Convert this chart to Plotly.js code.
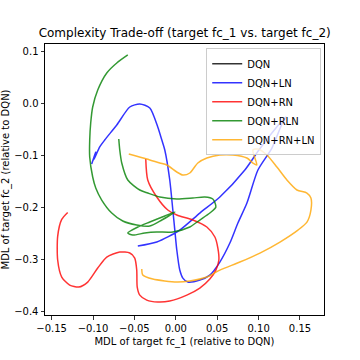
<!DOCTYPE html>
<html>
<head>
<meta charset="utf-8">
<script src="https://cdn.plot.ly/plotly-3.0.1.min.js"></script>
<style>html,body{margin:0;padding:0;background:#fff;}#chart{width:360px;height:360px;}</style>
</head>
<body>
<div id="chart"></div>
<script>
// Series names
var seriesNames = ["DQN", "DQN+LN", "DQN+RN", "DQN+RLN", "DQN+RN+LN"];

// DQN is the reference point (origin)
var dqnX = [0];
var dqnY = [0];

// DQN+LN
var lnX = [-0.1016, -0.0967, -0.0992, -0.0919, -0.0859, -0.0713, -0.0556, -0.0435, -0.0314, -0.0218, -0.0169, -0.0133, -0.0073, -0.0036, -0.0012, 0.0012, 0.0048, 0.0085, 0.0145, 0.0290, 0.0411, 0.0532, 0.0653, 0.0750, 0.0859, 0.0992, 0.1161, 0.1282, 0.1330, 0.1270, 0.1004, 0.0834, 0.0532, 0.0290, 0.0048, -0.0230, -0.0459];
var lnY = [-0.1167, -0.0937, -0.1090, -0.0840, -0.0706, -0.0417, -0.0071, -0.0013, -0.0090, -0.0456, -0.0706, -0.0898, -0.1475, -0.2052, -0.2437, -0.2821, -0.3206, -0.3360, -0.3437, -0.3398, -0.3302, -0.3052, -0.2687, -0.2302, -0.1917, -0.1283, -0.0860, -0.0398, -0.0263, -0.0360, -0.0898, -0.1283, -0.1802, -0.2110, -0.2437, -0.2667, -0.2744];

// DQN+RN
var rnX = [-0.0363, -0.0339, -0.0230, -0.0097, 0.0012, 0.0206, 0.0375, 0.0472, 0.0508, 0.0520, 0.0484, 0.0411, 0.0290, 0.0133, -0.0073, -0.0218, -0.0351, -0.0435, -0.0466, -0.0472, -0.0496, -0.0556, -0.0677, -0.0834, -0.0943, -0.1064, -0.1173, -0.1282, -0.1378, -0.1427, -0.1427, -0.1378, -0.1306];
var rnY = [-0.1071, -0.1475, -0.1802, -0.2052, -0.2148, -0.2244, -0.2379, -0.2571, -0.2783, -0.3013, -0.3206, -0.3379, -0.3552, -0.3687, -0.3802, -0.3821, -0.3783, -0.3687, -0.3533, -0.3206, -0.2975, -0.2879, -0.2860, -0.2956, -0.3167, -0.3437, -0.3533, -0.3494, -0.3340, -0.3013, -0.2558, -0.2233, -0.2098];

// DQN+RLN
var rlnX = [-0.0580, -0.0713, -0.0834, -0.0943, -0.1004, -0.1028, -0.1040, -0.1040, -0.1004, -0.0967, -0.0895, -0.0774, -0.0641, -0.0472, -0.0314, -0.0169, -0.0012, -0.0133, -0.0314, -0.0459, -0.0580, -0.0520, -0.0375, -0.0230, -0.0036, 0.0169, 0.0290, 0.0411, 0.0484, 0.0447, 0.0351, 0.0206, 0.0012, -0.0193, -0.0339, -0.0435, -0.0580, -0.0653, -0.0677, -0.0689];
var rlnY = [0.0929, 0.0775, 0.0583, 0.0256, -0.0071, -0.0379, -0.0706, -0.1033, -0.1417, -0.1629, -0.1860, -0.2110, -0.2263, -0.2340, -0.2360, -0.2244, -0.2090, -0.2167, -0.2283, -0.2379, -0.2494, -0.2533, -0.2494, -0.2475, -0.2475, -0.2379, -0.2244, -0.2110, -0.1994, -0.1840, -0.1802, -0.1821, -0.1840, -0.1802, -0.1725, -0.1667, -0.1475, -0.1148, -0.0898, -0.0687];

// DQN+RN+LN
var rnlnX = [-0.0568, -0.0351, -0.0193, -0.0109, 0.0012, 0.0085, 0.0169, 0.0266, 0.0375, 0.0532, 0.0689, 0.0859, 0.0931, 0.0979, 0.0931, 0.0992, 0.1100, 0.1221, 0.1342, 0.1463, 0.1584, 0.1632, 0.1632, 0.1584, 0.1475, 0.1258, 0.1016, 0.0774, 0.0532, 0.0375, 0.0169, 0.0012, -0.0278, -0.0399, -0.0411];
var rnlnY = [-0.0975, -0.1071, -0.1148, -0.1187, -0.1321, -0.1379, -0.1340, -0.1148, -0.1052, -0.0994, -0.0994, -0.1052, -0.1148, -0.1187, -0.0898, -0.0879, -0.0994, -0.1225, -0.1475, -0.1667, -0.1725, -0.1821, -0.2052, -0.2283, -0.2437, -0.2667, -0.2879, -0.3052, -0.3206, -0.3340, -0.3417, -0.3437, -0.3379, -0.3302, -0.3187];

var colors = ["rgba(0,0,0,0.8)", "rgba(0,0,255,0.8)", "rgba(255,0,0,0.8)", "rgba(0,128,0,0.8)", "rgba(255,165,0,0.8)"];
var xs = [dqnX, lnX, rnX, rlnX, rnlnX];
var ys = [dqnY, lnY, rnY, rlnY, rnlnY];

var traces = seriesNames.map(function(n, i) {
  return {x: xs[i], y: ys[i], name: n, type: "scatter", mode: "lines",
          line: {color: colors[i], width: 1.5, shape: "spline", smoothing: 0.7}};
});

var font = "DejaVu Sans, sans-serif";
var layout = {
  width: 360, height: 360,
  margin: {l: 45, r: 36, t: 44, b: 45, pad: 0},
  paper_bgcolor: "#fff", plot_bgcolor: "#fff",
  font: {family: font, size: 10, color: "#000"},
  showlegend: true,
  title: {text: "Complexity Trade-off (target fc_1 vs. target fc_2)", font: {family: font, size: 12, color: "#000"},
          x: 0.513, xanchor: "center", y: 0.908, yanchor: "middle"},
  xaxis: {range: [-0.158, 0.179], tickvals: [-0.15, -0.1, -0.05, 0, 0.05, 0.1, 0.15], tickformat: ".2f",
          ticks: "outside", ticklen: 3.5, tickwidth: 0.8, tickcolor: "#000",
          showline: true, mirror: true, linecolor: "#000", linewidth: 1,
          showgrid: false, zeroline: false,
          title: {text: "MDL of target fc_1 (relative to DQN)", font: {family: font, size: 10}, standoff: 5}},
  yaxis: {range: [-0.407, 0.114], tickvals: [-0.4, -0.3, -0.2, -0.1, 0, 0.1], tickformat: ".1f",
          ticks: "outside", ticklen: 3.5, tickwidth: 0.8, tickcolor: "#000",
          showline: true, mirror: true, linecolor: "#000", linewidth: 1,
          showgrid: false, zeroline: false,
          title: {text: "MDL of target fc_2 (relative to DQN)", font: {family: font, size: 10}, standoff: 7}},
  legend: {x: 0.99, y: 0.984, xanchor: "right", yanchor: "top",
           bgcolor: "rgba(255,255,255,0.8)", bordercolor: "#ccc", borderwidth: 1,
           font: {family: font, size: 10}, tracegroupgap: 0, itemwidth: 30}
};

Plotly.newPlot("chart", traces, layout, {displayModeBar: false, staticPlot: true});
</script>
</body>
</html>
